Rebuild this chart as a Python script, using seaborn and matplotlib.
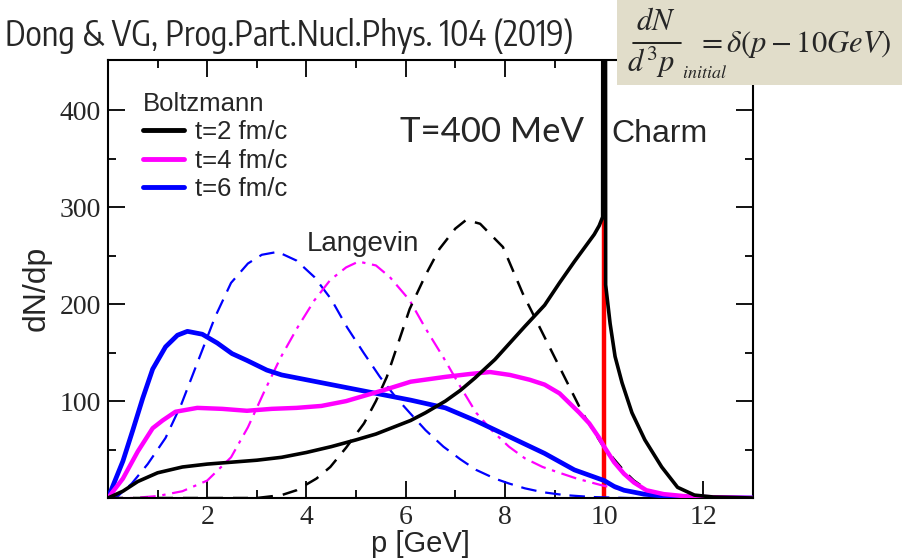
import matplotlib
matplotlib.use("Agg")
import matplotlib.pyplot as plt
import seaborn as sns
import pandas as pd
from matplotlib.lines import Line2D
from matplotlib.patches import Rectangle
from matplotlib.ticker import FixedLocator
from matplotlib import font_manager

# ---------------- data ----------------
# Boltzmann t=2 fm/c (black solid)
p_b2 = [0, 0.3, 0.6, 1.0, 1.5, 2.0, 2.5, 3.0, 3.5, 4.0, 4.5, 5.0, 5.4, 5.8, 6.1, 6.4, 6.8,
        7.1, 7.4, 7.8, 8.1, 8.4, 8.8, 9.1, 9.4, 9.6, 9.8, 9.9, 9.97, 10.0, 10.03, 10.12,
        10.22, 10.36, 10.56, 10.82, 11.16, 11.48, 11.82, 12.2, 13.0]
n_b2 = [0, 7, 17, 26, 32, 35, 37, 39, 42, 47, 53, 60, 66, 74, 80, 88, 100,
        111, 124, 143, 160, 177, 199, 222, 244, 258, 272, 281, 290, 3000, 220, 180,
        146, 119, 88, 60, 32, 11, 3, 1, 0]

# Boltzmann t=4 fm/c (magenta solid)
p_b4 = [0, 0.3, 0.6, 0.9, 1.1, 1.36, 1.8, 2.3, 2.8, 3.3, 3.8, 4.3, 4.8, 5.2, 5.6, 6.1,
        6.8, 7.3, 7.7, 8.1, 8.5, 8.8, 9.1, 9.3, 9.5, 9.7, 9.9, 10.0, 10.2, 10.4, 10.6,
        10.85, 11.2, 11.6, 12.0, 13.0]
n_b4 = [0, 20, 48, 72, 80, 89, 93, 92, 90, 92, 93, 95, 100, 106, 112, 120,
        125, 128, 130, 127, 122, 117, 108, 98, 88, 77, 62, 53, 37, 25, 16,
        8, 4, 2, 1, 0]

# Boltzmann t=6 fm/c (blue solid)
p_b6 = [0, 0.3, 0.5, 0.7, 0.9, 1.16, 1.4, 1.6, 1.9, 2.2, 2.5, 2.8, 3.2, 3.5, 3.8, 4.5,
        5.2, 5.8, 6.1, 6.8, 7.4, 8.1, 8.8, 9.4, 10.0, 10.2, 10.4, 10.8, 11.2, 11.6, 12.0, 13.0]
n_b6 = [0, 38, 70, 103, 133, 156, 168, 172, 169, 160, 149, 142, 132, 127, 124, 117,
        110, 104, 101, 93, 80, 63, 46, 29, 18, 12, 8, 4, 2, 1, 0.5, 0]

# Langevin t=6 fm/c (blue dashed)
p_l6 = [0, 0.2, 0.48, 0.8, 1.16, 1.48, 1.82, 2.16, 2.48, 2.82, 3.1, 3.42, 3.8, 4.16, 4.5,
        4.82, 5.15, 5.48, 5.8, 6.08, 6.4, 6.76, 7.1, 7.42, 7.8, 8.08, 8.4, 8.76, 9.2, 9.76,
        10.5, 13.0]
n_l6 = [0, 2, 15, 35, 62, 97, 142, 187, 222, 242, 251, 254, 245, 228, 205,
        176, 150, 125, 104, 88, 70, 53, 40, 29, 20, 15, 10, 6, 3, 1,
        0, 0]

# Langevin t=4 fm/c (magenta dash-dot)
p_l4 = [0, 0.5, 1.0, 1.5, 2.0, 2.48, 2.82, 3.16, 3.48, 3.82, 4.16, 4.48, 4.8, 5.05, 5.4,
        5.68, 6.08, 6.4, 6.76, 7.1, 7.42, 7.75, 8.08, 8.4, 8.76, 9.1, 9.45, 9.96, 10.5,
        11.0, 11.5, 12.0, 13.0]
n_l4 = [0, 0, 2, 7, 18, 42, 73, 111, 145, 176, 204, 225, 238, 244, 240,
        228, 204, 175, 145, 115, 88, 69, 53, 41, 32, 26, 20, 13, 7,
        3, 1.5, 0.5, 0]

# Langevin t=2 fm/c (black dashed)
p_l2 = [0, 3.0, 3.5, 3.8, 4.2, 4.48, 4.8, 5.16, 5.4, 5.62, 5.85, 6.08, 6.4, 6.68, 7.0,
        7.22, 7.5, 7.96, 8.36, 8.76, 9.16, 9.56, 9.96, 10.2, 10.4, 10.6, 10.88, 11.36, 12.0, 13.0]
n_l2 = [0, 0, 3, 8, 20, 32, 52, 77, 100, 125, 160, 195, 230, 257, 278,
        287, 283, 259, 211, 170, 129, 88, 55, 40, 28, 18, 8, 1, 0, 0]

x_ticks = [2, 4, 6, 8, 10, 12]
y_ticks = [100, 200, 300, 400]
legend_labels = ["t=2 fm/c", "t=4 fm/c", "t=6 fm/c"]
p_initial = 10

# ---------------- figure ----------------
sns.set_style("ticks")
plt.rcParams["font.family"] = ["Liberation Sans", "DejaVu Sans"]
plt.rcParams["mathtext.fontset"] = "stix"

# look for a condensed sans face for the citation line
cond_family = None
for f in font_manager.fontManager.ttflist:
    n = f.name.lower()
    if ("narrow" in n or "condensed" in n) and "sans" in n and f.style == "normal":
        cond_family = f.name
        break

fig = plt.figure(figsize=(9.02, 5.6), dpi=100)
ax = fig.add_axes([108 / 902, 1 - 498 / 560, (753 - 108) / 902, (498 - 60) / 560])

# red initial delta function
ax.axvline(p_initial, color="#ff0000", lw=3.2, zorder=1)

def draw(px, ny, color, lw, ls, z):
    df = pd.DataFrame({"p": px, "n": ny})
    sns.lineplot(data=df, x="p", y="n", ax=ax, color=color, lw=lw, linestyle=ls,
                 sort=False, estimator=None, errorbar=None, zorder=z)

draw(p_l6, n_l6, "#0000ff", 1.6, (0, (7, 4)), 2)
draw(p_l4, n_l4, "#ff00ff", 1.6, (0, (7, 3, 1.5, 3)), 2)
draw(p_l2, n_l2, "#000000", 1.8, (0, (6, 4)), 2)
draw(p_b6, n_b6, "#0000ff", 3.4, "-", 3)
draw(p_b4, n_b4, "#ff00ff", 3.2, "-", 3)
draw(p_b2, n_b2, "#000000", 2.6, "-", 4)

ax.set_xlim(0, 13)
ax.set_ylim(0, 452)
ax.xaxis.set_major_locator(FixedLocator(x_ticks))
ax.xaxis.set_minor_locator(FixedLocator([1, 3, 5, 7, 9, 11]))
ax.yaxis.set_major_locator(FixedLocator(y_ticks))
ax.yaxis.set_minor_locator(FixedLocator([50, 150, 250, 350]))
ax.tick_params(which="both", direction="in", top=True, right=True, width=1.3, color="black")
ax.tick_params(which="major", length=12)
ax.tick_params(which="minor", length=6)
for lab in ax.get_xticklabels() + ax.get_yticklabels():
    lab.set_fontfamily(["Liberation Serif", "DejaVu Serif"])
    lab.set_fontsize(20)
ax.tick_params(axis="x", pad=5)
ax.tick_params(axis="y", pad=5)
for s in ax.spines.values():
    s.set_linewidth(1.5)
    s.set_color("black")

ax.set_xlabel("p [GeV]", fontsize=21)
ax.xaxis.set_label_coords((420 - 108) / 645, -0.074)
ax.set_ylabel("dN/dp", fontsize=23)
ax.yaxis.set_label_coords(-0.087, 0.479)

handles = [Line2D([], [], color=c, lw=3.5) for c in ["#000000", "#ff00ff", "#0000ff"]]
leg = ax.legend(handles, legend_labels, title="Boltzmann", loc="upper left",
                bbox_to_anchor=(0.026, 0.968), frameon=False, fontsize=18.5,
                title_fontsize=18.5, alignment="left", handlelength=1.6,
                handletextpad=0.45, labelspacing=0.17, borderaxespad=0.3)

ax.text(5.89, 378, "T=400 MeV", fontsize=25, family=["Lato", "DejaVu Sans"], ha="left", va="center")
ax.text(10.15, 376, "Charm", fontsize=23, ha="left", va="center")
ax.text(4.0, 262, "Langevin", fontsize=20, ha="left", va="center")

# citation
if cond_family is not None:
    fig.text(5 / 902, 1 - 36 / 560, "Dong & VG, Prog.Part.Nucl.Phys. 104 (2019)",
             fontsize=24.6, family=[cond_family, "DejaVu Sans"],
             ha="left", va="center")
else:
    fig.text(5 / 902, 1 - 36 / 560, "Dong & VG, Prog.Part.Nucl.Phys. 104 (2019)",
             fontsize=19.5, family=["Liberation Sans", "DejaVu Sans"],
             ha="left", va="center")

# formula box
fig.add_artist(Rectangle((617 / 902, 1 - 85 / 560), 1 - 617 / 902, 85 / 560,
                         transform=fig.transFigure, facecolor="#e1ddca", edgecolor="none", zorder=5))
fig.text(656 / 902, 1 - 22 / 560, r"$dN$", fontsize=22, ha="center", va="center", zorder=6)
fig.add_artist(Line2D([633 / 902, 681 / 902], [1 - 43 / 560, 1 - 43 / 560],
                      transform=fig.transFigure, color="black", lw=1.2, zorder=6))
fig.text(627 / 902, 1 - 62 / 560, r"$d^3p$", fontsize=22, ha="left", va="center", zorder=6)
fig.text(682 / 902, 1 - 74 / 560, r"$initial$", fontsize=13, ha="left", va="center", zorder=6)
fig.text(697 / 902, 1 - 44 / 560, r"$=\delta\left(p-10GeV\right)$", fontsize=22,
         ha="left", va="center", zorder=6)

fig.savefig("out.png", dpi=100)
